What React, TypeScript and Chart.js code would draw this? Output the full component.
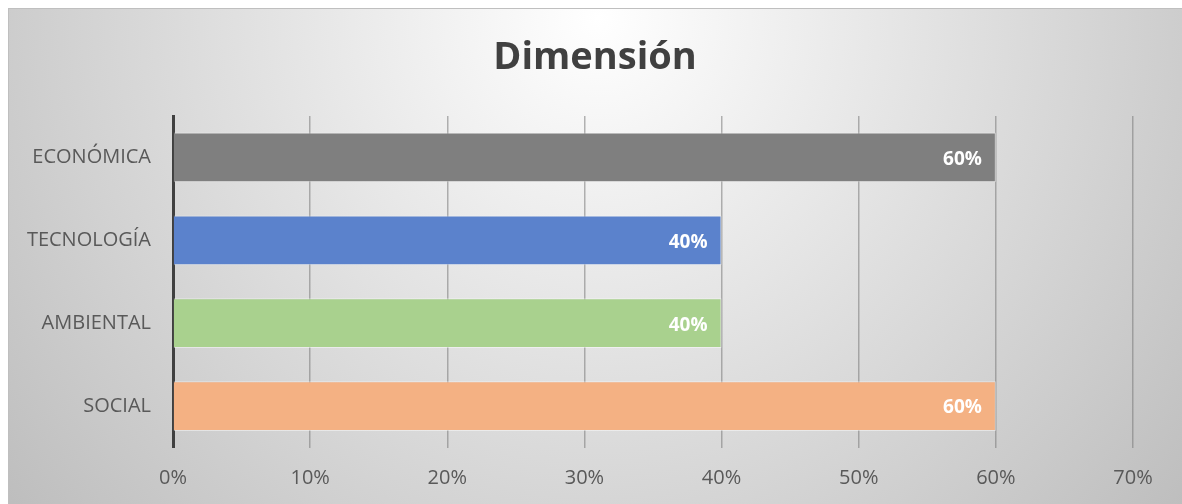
import React, { useEffect, useRef } from "react";
import { Chart, registerables } from "chart.js";

Chart.register(...registerables);

const categories = ["ECONÓMICA", "TECNOLOGÍA", "AMBIENTAL", "SOCIAL"];
const values = [60, 40, 40, 60];
const barColors = ["#7f7f7f", "#5b82cc", "#a9d18e", "#f4b183"];
const xTicks = [0, 10, 20, 30, 40, 50, 60, 70];
const titleText = "Dimensión";
const FONT = "'Open Sans', 'DejaVu Sans', sans-serif";

const bgPlugin = {
  id: "bgPlugin",
  beforeDraw(chart: any) {
    const { ctx, width, height } = chart;
    ctx.save();
    const g = ctx.createRadialGradient(590, 10, 0, 590, 10, 760);
    g.addColorStop(0, "#ffffff");
    g.addColorStop(1, "#bebebe");
    ctx.fillStyle = g;
    ctx.fillRect(0, 0, width, height);
    ctx.strokeStyle = "#bfbfbf";
    ctx.lineWidth = 2;
    ctx.beginPath();
    ctx.moveTo(0, height);
    ctx.lineTo(0, 0);
    ctx.lineTo(width, 0);
    ctx.stroke();
    ctx.restore();
  },
};

const valueLabelPlugin = {
  id: "valueLabelPlugin",
  afterDatasetsDraw(chart: any) {
    const { ctx } = chart;
    const meta = chart.getDatasetMeta(0);
    ctx.save();
    ctx.fillStyle = "#ffffff";
    ctx.font = `bold 19px ${FONT}`;
    ctx.textAlign = "right";
    ctx.textBaseline = "middle";
    meta.data.forEach((bar: any, i: number) => {
      ctx.fillText(values[i] + "%", bar.x - 14, bar.y + 2);
    });
    ctx.restore();
  },
};

export default function App() {
  const ref = useRef<HTMLCanvasElement>(null);
  useEffect(() => {
    if (!ref.current) return;
    const chart = new Chart(ref.current, {
      type: "bar",
      data: {
        labels: categories,
        datasets: [
          {
            data: values,
            backgroundColor: barColors,
            borderColor: "rgba(255,255,255,0.45)",
            borderWidth: 1,
            categoryPercentage: 1,
            barPercentage: 0.6,
          },
        ],
      },
      options: {
        indexAxis: "y",
        animation: false,
        responsive: false,
        maintainAspectRatio: false,
        layout: { padding: 0 },
        plugins: {
          legend: { display: false },
          tooltip: { enabled: false },
          title: {
            display: true,
            text: titleText,
            color: "#404040",
            font: { family: FONT, size: 38, weight: "bold" },
            padding: { top: 27.7, bottom: 34.7 },
          },
        },
        scales: {
          x: {
            type: "linear",
            min: 0,
            max: 70,
            afterBuildTicks: (scale: any) => {
              scale.ticks = xTicks.map((v) => ({ value: v }));
            },
            afterFit: (scale: any) => {
              scale.height = 56.5;
            },
            border: { display: false },
            grid: {
              drawTicks: false,
              lineWidth: 1.5,
              color: (c: any) =>
                c.tick && c.tick.value === 0 ? "rgba(0,0,0,0)" : "rgba(120,120,120,0.55)",
            },
            ticks: {
              padding: 19,
              color: "#595959",
              font: { family: FONT, size: 20 },
              callback: (v: any) => v + "%",
            },
          },
          y: {
            afterFit: (scale: any) => {
              scale.width = 165;
            },
            border: { display: true, color: "#404040", width: 3 },
            grid: { display: false, drawTicks: false },
            ticks: {
              padding: 22,
              color: "#595959",
              font: { family: FONT, size: 20 },
            },
          },
          spacer: {
            type: "linear",
            position: "right",
            display: true,
            afterFit: (scale: any) => {
              scale.width = 49;
            },
            border: { display: false },
            grid: { display: false, drawTicks: false },
            ticks: { display: false },
          },
        },
      },
      plugins: [bgPlugin, valueLabelPlugin],
    });
    return () => chart.destroy();
  }, []);
  return (
    <div style={{ position: "fixed", left: 8, top: 8, width: 1174, height: 496 }}>
      <canvas ref={ref} width={1174} height={496} style={{ display: "block" }} />
    </div>
  );
}
